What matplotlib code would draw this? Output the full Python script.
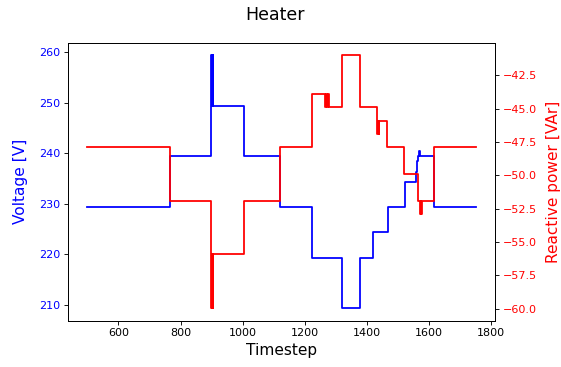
import numpy as np
import matplotlib
matplotlib.use("Agg")
import matplotlib.pyplot as plt

# Voltage step profile (timestep where a level starts, level in V)
volt_t = [500, 767, 898, 900, 901, 903, 904, 906, 1003, 1121, 1223, 1320,
          1378, 1420, 1469, 1523, 1559, 1562, 1565, 1568, 1571, 1574, 1617, 1750]
volt_v = [229.4, 239.4, 259.4, 249.4, 259.4, 249.4, 259.4, 249.4, 239.4, 229.4,
          219.4, 209.4, 219.4, 224.4, 229.4, 234.4, 236.4, 238.4, 239.4, 240.4,
          239.4, 239.4, 229.4, 229.4]

# Reactive power step profile (timestep where a level starts, level in VAr)
q_t = [500, 767, 898, 900, 901, 903, 904, 906, 1003, 1121, 1223, 1266, 1268,
       1271, 1274, 1277, 1320, 1378, 1431, 1433, 1436, 1438, 1440, 1465, 1520,
       1566, 1570, 1573, 1575, 1577, 1617, 1750]
q_v = [-47.9, -51.9, -59.95, -55.9, -59.95, -55.9, -59.95, -55.9, -51.9, -47.9,
       -43.9, -44.9, -43.9, -44.9, -43.9, -44.9, -41.0, -44.9, -45.9, -46.9,
       -45.9, -46.9, -45.9, -47.9, -49.9, -51.9, -52.9, -51.9, -52.9, -51.9,
       -47.9, -47.9]

DPI = 80
fig = plt.figure(figsize=(561 / DPI, 367 / DPI), dpi=DPI)
ax1 = fig.add_subplot(111)
fig.subplots_adjust(left=0.1212, right=0.8824, top=0.8837, bottom=0.1262)

ax1.step(volt_t, volt_v, where='post', color='b', lw=1.6)
ax1.set_xlabel('Timestep', fontsize=13.8)
ax1.set_ylabel('Voltage [V]', color='b', fontsize=13.8, labelpad=9.5)
ax1.tick_params(axis='y', labelcolor='b')
ax1.set_xticks([600, 800, 1000, 1200, 1400, 1600, 1800])

ax2 = ax1.twinx()
ax2.step(q_t, q_v, where='post', color='r', lw=1.6)
ax2.set_ylabel('Reactive power [VAr]', color='r', fontsize=13.8, labelpad=8)
ax2.tick_params(axis='y', labelcolor='r')

fig.suptitle('Heater', fontsize=15.7, x=0.49, y=0.985)

fig.savefig('out.png', dpi=DPI)
